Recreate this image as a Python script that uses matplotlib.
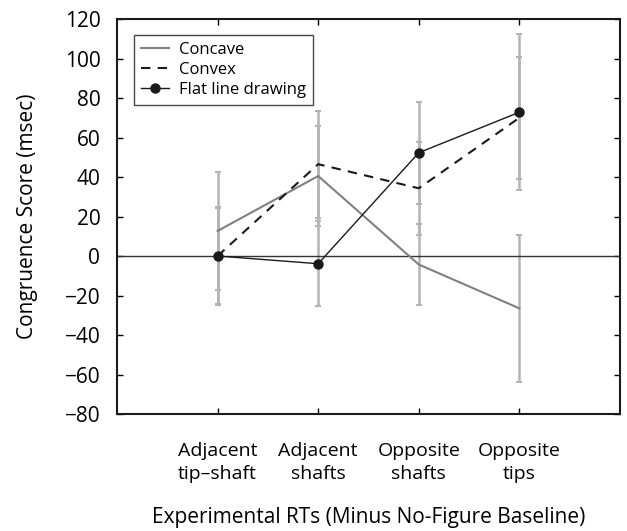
import matplotlib.pyplot as plt
import numpy as np

plt.rcParams['font.family'] = ['Open Sans', 'DejaVu Sans']

# conditions along the x axis
categories = ['Adjacent\ntip\u2013shaft', 'Adjacent\nshafts', 'Opposite\nshafts', 'Opposite\ntips']

# mean congruence scores (msec)
concave = [12.7, 40.5, -4.3, -26.5]
convex = [0.0, 46.5, 34.3, 70.0]
flat = [0.0, -3.9, 52.3, 72.8]

# error bar half-widths
concave_err = [30.0, 25.5, 20.5, 37.3]
convex_err = [25.0, 27.0, 23.6, 31.0]
flat_err = [24.5, 21.5, 25.8, 39.4]

x = np.arange(1, len(categories) + 1)

fig = plt.figure(figsize=(6.27, 5.31), dpi=100)
ax = fig.add_axes([0.1866, 0.2203, 0.8022, 0.7439])

err_color = '#b4b4b4'
for vals, errs in [(concave, concave_err), (convex, convex_err), (flat, flat_err)]:
    ax.errorbar(x, vals, yerr=errs, fmt='none', ecolor=err_color,
                elinewidth=1.8, capsize=2.5, capthick=1.5, zorder=1)

ax.axhline(0, color='#333333', lw=1.0, zorder=2)

ax.plot(x, concave, color='#808080', lw=1.5, label='Concave', zorder=3)
ax.plot(x, convex, color='#1a1a1a', lw=1.5, ls=(0, (4.5, 3.5)), label='Convex', zorder=4)
ax.plot(x, flat, color='#1a1a1a', lw=1.0, marker='o', markersize=6.5,
        label='Flat line drawing', zorder=5)

ax.set_xlim(0, 5)
ax.set_ylim(-80, 120)
ax.set_yticks(np.arange(-80, 121, 20))
ax.set_yticklabels([str(v).replace('-', '\u2212') for v in range(-80, 121, 20)])
ax.set_xticks(x)
ax.set_xticklabels(categories, linespacing=1.4)

ax.tick_params(axis='both', direction='in', length=4, width=1.0,
               top=True, right=True)
ax.tick_params(axis='y', pad=12, labelsize=15)
ax.tick_params(axis='x', pad=20, labelsize=14)

for sp in ax.spines.values():
    sp.set_linewidth(1.5)
    sp.set_color('#1a1a1a')

ax.set_xlabel('Experimental RTs (Minus No-Figure Baseline)', fontsize=15, labelpad=17)
ax.set_ylabel('Congruence Score (msec)', fontsize=15)
ax.yaxis.set_label_coords(-0.157, 0.5)

leg = ax.legend(loc='upper left', bbox_to_anchor=(0.034, 0.959), fontsize=12,
                frameon=True, fancybox=False, handlelength=1.7, handletextpad=0.6,
                borderpad=0.4, labelspacing=0.25, borderaxespad=0)
leg.get_frame().set_edgecolor('#1a1a1a')
leg.get_frame().set_linewidth(1.0)

fig.savefig('out.png', dpi=100)
